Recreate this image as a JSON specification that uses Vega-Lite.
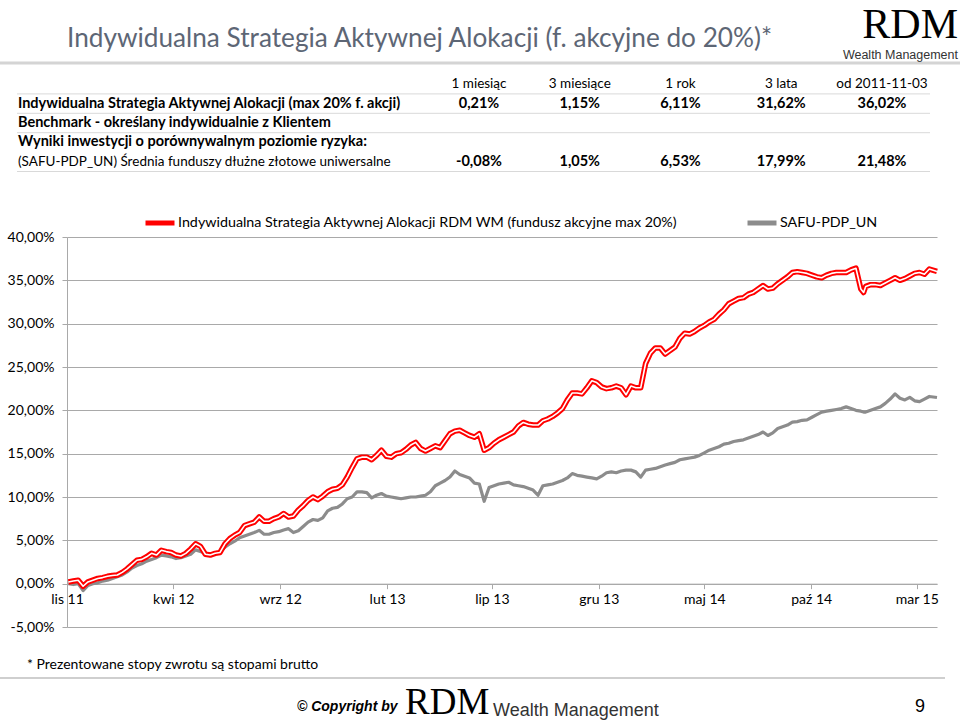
{
 "$schema": "https://vega.github.io/schema/vega-lite/v6.json",
 "width": 870,
 "height": 390,
 "autosize": {"type": "none"},
 "padding": {"left": 67, "top": 237, "right": 23, "bottom": 95},
 "background": "#ffffff",
 "config": {
  "font": "Lato",
  "view": {"stroke": null},
  "locale": {
   "number": {"decimal": ",", "thousands": " ", "grouping": [3], "currency": ["", " zł"], "minus": "-"},
   "time": {
    "dateTime": "%A, %-d %B %Y %X", "date": "%d.%m.%Y", "time": "%H:%M:%S", "periods": ["AM", "PM"],
    "days": ["niedziela", "poniedziałek", "wtorek", "środa", "czwartek", "piątek", "sobota"],
    "shortDays": ["niedz.", "pon.", "wt.", "śr.", "czw.", "pt.", "sob."],
    "months": ["styczeń", "luty", "marzec", "kwiecień", "maj", "czerwiec", "lipiec", "sierpień", "wrzesień", "październik", "listopad", "grudzień"],
    "shortMonths": ["sty", "lut", "mar", "kwi", "maj", "cze", "lip", "sie", "wrz", "paź", "lis", "gru"]
   }
  }
 },
 "datasets": {
  "series": [
   {"d": "2011-11-03", "r": 0.2, "g": 0.0}, {"d": "2011-11-10", "r": 0.3, "g": -0.1}, {"d": "2011-11-17", "r": 0.4, "g": 0.0},
   {"d": "2011-11-24", "r": -0.3, "g": -0.8}, {"d": "2011-12-01", "r": 0.2, "g": -0.2}, {"d": "2011-12-08", "r": 0.4, "g": 0.0},
   {"d": "2011-12-15", "r": 0.6, "g": 0.1}, {"d": "2011-12-22", "r": 0.7, "g": 0.3}, {"d": "2011-12-29", "r": 0.85, "g": 0.4},
   {"d": "2012-01-05", "r": 0.95, "g": 0.6}, {"d": "2012-01-12", "r": 1.0, "g": 0.8}, {"d": "2012-01-19", "r": 1.3, "g": 1.0},
   {"d": "2012-01-26", "r": 1.7, "g": 1.35}, {"d": "2012-02-02", "r": 2.2, "g": 1.8}, {"d": "2012-02-09", "r": 2.7, "g": 2.1},
   {"d": "2012-02-16", "r": 2.8, "g": 2.3}, {"d": "2012-02-23", "r": 3.1, "g": 2.6}, {"d": "2012-03-01", "r": 3.5, "g": 2.8},
   {"d": "2012-03-08", "r": 3.3, "g": 3.0}, {"d": "2012-03-15", "r": 3.85, "g": 3.3}, {"d": "2012-03-22", "r": 3.7, "g": 3.2},
   {"d": "2012-03-29", "r": 3.6, "g": 3.1}, {"d": "2012-04-05", "r": 3.3, "g": 2.9}, {"d": "2012-04-12", "r": 3.2, "g": 3.0},
   {"d": "2012-04-19", "r": 3.5, "g": 3.2}, {"d": "2012-04-26", "r": 4.0, "g": 3.4}, {"d": "2012-05-03", "r": 4.6, "g": 3.9},
   {"d": "2012-05-10", "r": 4.3, "g": 3.7}, {"d": "2012-05-17", "r": 3.4, "g": 3.5}, {"d": "2012-05-24", "r": 3.3, "g": 3.4},
   {"d": "2012-05-31", "r": 3.5, "g": 3.4}, {"d": "2012-06-07", "r": 3.6, "g": 3.7}, {"d": "2012-06-14", "r": 4.6, "g": 4.2},
   {"d": "2012-06-21", "r": 5.2, "g": 4.6}, {"d": "2012-06-28", "r": 5.6, "g": 4.9}, {"d": "2012-07-05", "r": 5.9, "g": 5.3},
   {"d": "2012-07-12", "r": 6.7, "g": 5.5}, {"d": "2012-07-19", "r": 6.9, "g": 5.7}, {"d": "2012-07-26", "r": 7.1, "g": 5.9},
   {"d": "2012-08-02", "r": 7.7, "g": 6.15}, {"d": "2012-08-09", "r": 7.2, "g": 5.7}, {"d": "2012-08-16", "r": 7.2, "g": 5.7},
   {"d": "2012-08-23", "r": 7.5, "g": 5.9}, {"d": "2012-08-30", "r": 7.7, "g": 6.0}, {"d": "2012-09-06", "r": 8.1, "g": 6.2},
   {"d": "2012-09-13", "r": 7.7, "g": 6.35}, {"d": "2012-09-20", "r": 7.8, "g": 5.9}, {"d": "2012-09-27", "r": 8.5, "g": 6.1},
   {"d": "2012-10-04", "r": 9.0, "g": 6.6}, {"d": "2012-10-11", "r": 9.6, "g": 7.1}, {"d": "2012-10-18", "r": 10.0, "g": 7.4},
   {"d": "2012-10-25", "r": 9.7, "g": 7.3}, {"d": "2012-11-01", "r": 10.1, "g": 7.6}, {"d": "2012-11-08", "r": 10.6, "g": 8.4},
   {"d": "2012-11-15", "r": 10.9, "g": 8.7}, {"d": "2012-11-22", "r": 11.0, "g": 8.8}, {"d": "2012-11-29", "r": 11.4, "g": 9.2},
   {"d": "2012-12-06", "r": 12.3, "g": 9.8}, {"d": "2012-12-13", "r": 13.4, "g": 10.0}, {"d": "2012-12-20", "r": 14.4, "g": 10.6},
   {"d": "2012-12-27", "r": 14.6, "g": 10.6}, {"d": "2013-01-03", "r": 14.6, "g": 10.5}, {"d": "2013-01-10", "r": 14.3, "g": 9.9},
   {"d": "2013-01-17", "r": 14.8, "g": 10.2}, {"d": "2013-01-24", "r": 15.4, "g": 10.4}, {"d": "2013-01-31", "r": 14.7, "g": 10.1},
   {"d": "2013-02-07", "r": 14.6, "g": 10.0}, {"d": "2013-02-14", "r": 15.0, "g": 9.9}, {"d": "2013-02-21", "r": 15.1, "g": 9.8},
   {"d": "2013-02-28", "r": 15.5, "g": 9.9}, {"d": "2013-03-07", "r": 16.0, "g": 10.0}, {"d": "2013-03-14", "r": 16.3, "g": 10.0},
   {"d": "2013-03-21", "r": 15.6, "g": 10.1}, {"d": "2013-03-28", "r": 15.3, "g": 10.2}, {"d": "2013-04-04", "r": 15.6, "g": 10.6},
   {"d": "2013-04-11", "r": 15.9, "g": 11.3}, {"d": "2013-04-18", "r": 15.7, "g": 11.6}, {"d": "2013-04-25", "r": 16.5, "g": 11.9},
   {"d": "2013-05-02", "r": 17.3, "g": 12.3}, {"d": "2013-05-09", "r": 17.6, "g": 13.0}, {"d": "2013-05-16", "r": 17.7, "g": 12.6},
   {"d": "2013-05-23", "r": 17.4, "g": 12.4}, {"d": "2013-05-30", "r": 17.1, "g": 12.2}, {"d": "2013-06-06", "r": 16.9, "g": 11.6},
   {"d": "2013-06-13", "r": 17.3, "g": 11.5}, {"d": "2013-06-20", "r": 15.4, "g": 9.5}, {"d": "2013-06-27", "r": 15.7, "g": 11.1},
   {"d": "2013-07-04", "r": 16.2, "g": 11.3}, {"d": "2013-07-11", "r": 16.6, "g": 11.5}, {"d": "2013-07-18", "r": 16.9, "g": 11.6},
   {"d": "2013-07-25", "r": 17.2, "g": 11.7}, {"d": "2013-08-01", "r": 17.5, "g": 11.4}, {"d": "2013-08-08", "r": 18.2, "g": 11.3},
   {"d": "2013-08-15", "r": 18.6, "g": 11.2}, {"d": "2013-08-22", "r": 18.4, "g": 11.0}, {"d": "2013-08-29", "r": 18.3, "g": 10.8},
   {"d": "2013-09-05", "r": 18.3, "g": 10.2}, {"d": "2013-09-12", "r": 18.8, "g": 11.3}, {"d": "2013-09-19", "r": 19.0, "g": 11.4},
   {"d": "2013-09-26", "r": 19.3, "g": 11.5}, {"d": "2013-10-03", "r": 19.7, "g": 11.7}, {"d": "2013-10-10", "r": 20.2, "g": 11.9},
   {"d": "2013-10-17", "r": 21.2, "g": 12.2}, {"d": "2013-10-24", "r": 22.0, "g": 12.7}, {"d": "2013-10-31", "r": 22.0, "g": 12.5},
   {"d": "2013-11-07", "r": 21.9, "g": 12.4}, {"d": "2013-11-14", "r": 22.6, "g": 12.3}, {"d": "2013-11-21", "r": 23.4, "g": 12.2},
   {"d": "2013-11-28", "r": 23.2, "g": 12.1}, {"d": "2013-12-05", "r": 22.7, "g": 12.4}, {"d": "2013-12-12", "r": 22.5, "g": 12.8},
   {"d": "2013-12-19", "r": 22.6, "g": 12.9}, {"d": "2013-12-26", "r": 22.8, "g": 12.8}, {"d": "2014-01-02", "r": 22.6, "g": 13.0},
   {"d": "2014-01-09", "r": 21.8, "g": 13.1}, {"d": "2014-01-16", "r": 22.8, "g": 13.1}, {"d": "2014-01-23", "r": 22.6, "g": 12.9},
   {"d": "2014-01-30", "r": 22.6, "g": 12.3}, {"d": "2014-02-06", "r": 25.4, "g": 13.1}, {"d": "2014-02-13", "r": 26.6, "g": 13.2},
   {"d": "2014-02-20", "r": 27.2, "g": 13.3}, {"d": "2014-02-27", "r": 27.2, "g": 13.5}, {"d": "2014-03-06", "r": 26.5, "g": 13.7},
   {"d": "2014-03-13", "r": 26.9, "g": 13.85}, {"d": "2014-03-20", "r": 27.3, "g": 14.0}, {"d": "2014-03-27", "r": 28.3, "g": 14.3},
   {"d": "2014-04-03", "r": 28.9, "g": 14.4}, {"d": "2014-04-10", "r": 28.8, "g": 14.5}, {"d": "2014-04-17", "r": 29.1, "g": 14.6},
   {"d": "2014-04-24", "r": 29.5, "g": 14.8}, {"d": "2014-05-01", "r": 29.8, "g": 15.1}, {"d": "2014-05-08", "r": 30.2, "g": 15.4},
   {"d": "2014-05-15", "r": 30.5, "g": 15.6}, {"d": "2014-05-22", "r": 31.1, "g": 15.8}, {"d": "2014-05-29", "r": 31.6, "g": 16.1},
   {"d": "2014-06-05", "r": 32.3, "g": 16.2}, {"d": "2014-06-12", "r": 32.6, "g": 16.4}, {"d": "2014-06-19", "r": 32.9, "g": 16.5},
   {"d": "2014-06-26", "r": 33.0, "g": 16.6}, {"d": "2014-07-03", "r": 33.4, "g": 16.8}, {"d": "2014-07-10", "r": 33.6, "g": 17.0},
   {"d": "2014-07-17", "r": 34.0, "g": 17.2}, {"d": "2014-07-24", "r": 34.4, "g": 17.5}, {"d": "2014-07-31", "r": 34.0, "g": 17.1},
   {"d": "2014-08-07", "r": 34.1, "g": 17.4}, {"d": "2014-08-14", "r": 34.6, "g": 17.9}, {"d": "2014-08-21", "r": 35.0, "g": 18.1},
   {"d": "2014-08-28", "r": 35.4, "g": 18.3}, {"d": "2014-09-04", "r": 35.9, "g": 18.65}, {"d": "2014-09-11", "r": 36.0, "g": 18.7},
   {"d": "2014-09-18", "r": 35.9, "g": 18.85}, {"d": "2014-09-25", "r": 35.8, "g": 18.9}, {"d": "2014-10-02", "r": 35.6, "g": 19.2},
   {"d": "2014-10-09", "r": 35.4, "g": 19.5}, {"d": "2014-10-16", "r": 35.3, "g": 19.8}, {"d": "2014-10-23", "r": 35.6, "g": 19.9},
   {"d": "2014-10-30", "r": 35.8, "g": 20.0}, {"d": "2014-11-06", "r": 35.9, "g": 20.1}, {"d": "2014-11-13", "r": 35.9, "g": 20.2},
   {"d": "2014-11-20", "r": 35.9, "g": 20.4}, {"d": "2014-11-27", "r": 36.2, "g": 20.2}, {"d": "2014-12-04", "r": 36.4, "g": 20.0},
   {"d": "2014-12-11", "r": 34.0, "g": 19.9}, {"d": "2014-12-15", "r": 33.6, "g": 19.8}, {"d": "2014-12-18", "r": 34.3, "g": 19.8},
   {"d": "2014-12-25", "r": 34.5, "g": 20.0}, {"d": "2015-01-01", "r": 34.5, "g": 20.2}, {"d": "2015-01-08", "r": 34.4, "g": 20.4},
   {"d": "2015-01-15", "r": 34.7, "g": 20.8}, {"d": "2015-01-22", "r": 35.0, "g": 21.3}, {"d": "2015-01-29", "r": 35.3, "g": 21.9},
   {"d": "2015-02-05", "r": 35.0, "g": 21.4}, {"d": "2015-02-12", "r": 35.2, "g": 21.2}, {"d": "2015-02-19", "r": 35.5, "g": 21.5},
   {"d": "2015-02-26", "r": 35.8, "g": 21.1}, {"d": "2015-03-05", "r": 35.9, "g": 21.0}, {"d": "2015-03-12", "r": 35.7, "g": 21.3},
   {"d": "2015-03-19", "r": 36.3, "g": 21.6}, {"d": "2015-03-30", "r": 36.02, "g": 21.48}
  ],
  "returns": [
   {"line": "fund", "period": "1 miesiąc", "ret": 0.0021},
   {"line": "fund", "period": "3 miesiące", "ret": 0.0115},
   {"line": "fund", "period": "1 rok", "ret": 0.0611},
   {"line": "fund", "period": "3 lata", "ret": 0.3162},
   {"line": "fund", "period": "od 2011-11-03", "ret": 0.3602},
   {"line": "safu", "period": "1 miesiąc", "ret": -0.0008},
   {"line": "safu", "period": "3 miesiące", "ret": 0.0105},
   {"line": "safu", "period": "1 rok", "ret": 0.0653},
   {"line": "safu", "period": "3 lata", "ret": 0.1799},
   {"line": "safu", "period": "od 2011-11-03", "ret": 0.2148}
  ],
  "rows": [
   {"line": "head", "label": ""},
   {"line": "fund", "label": "Indywidualna Strategia Aktywnej Alokacji (max 20% f. akcji)"},
   {"line": "bench", "label": "Benchmark - określany indywidualnie z Klientem"},
   {"line": "peer", "label": "Wyniki inwestycji o porównywalnym poziomie ryzyka:"},
   {"line": "safu", "label": "(SAFU-PDP_UN) Średnia funduszy dłużne złotowe uniwersalne"}
  ],
  "notes": [
   {"part": "title", "text": "Indywidualna Strategia Aktywnej Alokacji (f. akcyjne do 20%)*"},
   {"part": "logo", "text": "RDM"},
   {"part": "logoSub", "text": "Wealth Management"},
   {"part": "footnote", "text": "* Prezentowane stopy zwrotu są stopami brutto"},
   {"part": "copyright", "text": "© Copyright by"},
   {"part": "footLogo", "text": "RDM"},
   {"part": "footLogoSub", "text": "Wealth Management"},
   {"part": "page", "text": "9"}
  ]
 },
 "layer": [
  {
   "data": {"name": "series"},
   "encoding": {
    "x": {
     "field": "d", "type": "temporal", "title": null,
     "scale": {"type": "utc", "nice": false, "domain": [{"year": 2011, "month": 11, "date": 1, "utc": true}, {"year": 2015, "month": 3, "date": 30, "utc": true}]},
     "axis": {
      "orient": "bottom", "offset": -43.33, "format": "%b %y", "grid": false,
      "values": [
       {"year": 2011, "month": 11, "date": 1, "utc": true}, {"year": 2012, "month": 4, "date": 1, "utc": true},
       {"year": 2012, "month": 9, "date": 1, "utc": true}, {"year": 2013, "month": 2, "date": 1, "utc": true},
       {"year": 2013, "month": 7, "date": 1, "utc": true}, {"year": 2013, "month": 12, "date": 1, "utc": true},
       {"year": 2014, "month": 5, "date": 1, "utc": true}, {"year": 2014, "month": 10, "date": 1, "utc": true},
       {"year": 2015, "month": 3, "date": 1, "utc": true}
      ],
      "labelFont": "Lato", "labelFontSize": 14, "labelColor": "#000000", "labelPadding": 4,
      "labelFlush": false, "labelOverlap": false, "labelBound": false,
      "domainColor": "#a9a9a9", "domainWidth": 1, "tickColor": "#a9a9a9", "tickSize": 5, "tickWidth": 1
     }
    }
   },
   "layer": [
    {
     "mark": {"type": "line", "strokeWidth": 3.2, "strokeJoin": "round"},
     "encoding": {
      "y": {
       "field": "g", "type": "quantitative", "title": null,
       "scale": {"domain": [-5, 40], "nice": false, "zero": false},
       "axis": {
        "orient": "left", "values": [-5, 0, 5, 10, 15, 20, 25, 30, 35, 40], "format": ".2f", "labelExpr": "datum.label + '%'",
        "grid": true, "gridColor": "#a9a9a9", "gridWidth": 1, "domainColor": "#a9a9a9", "tickColor": "#a9a9a9", "tickSize": 5,
        "labelFont": "Lato", "labelFontSize": 14, "labelColor": "#000000", "labelPadding": 8
       }
      },
      "color": {
       "datum": "SAFU-PDP_UN", "type": "nominal",
       "scale": {"domain": ["Indywidualna Strategia Aktywnej Alokacji RDM WM (fundusz akcyjne max 20%)", "SAFU-PDP_UN"], "range": ["#ff0000", "#8c8c8c"]},
       "legend": {
        "orient": "none", "legendX": 76, "legendY": -31, "direction": "horizontal", "title": null,
        "labelFont": "Lato", "labelFontSize": 14.3, "labelColor": "#000000", "labelLimit": 1000, "labelOffset": 1,
        "symbolType": "stroke", "symbolStrokeWidth": 5, "symbolSize": 841, "columnPadding": 59
       }
      }
     }
    },
    {
     "mark": {"type": "line", "strokeWidth": 5.5, "strokeJoin": "round"},
     "encoding": {
      "y": {"field": "r", "type": "quantitative", "title": null, "scale": {"domain": [-5, 40], "nice": false, "zero": false}},
      "color": {"datum": "Indywidualna Strategia Aktywnej Alokacji RDM WM (fundusz akcyjne max 20%)", "type": "nominal"}
     }
    },
    {
     "mark": {"type": "line", "strokeWidth": 1.6, "color": "#ffffff", "strokeJoin": "round"},
     "encoding": {
      "y": {"field": "r", "type": "quantitative", "title": null, "scale": {"domain": [-5, 40], "nice": false, "zero": false}}
     }
    }
   ]
  },
  {
   "layer": [
    {
     "data": {"name": "rows"},
     "transform": [{"filter": "datum.line != 'peer'"}],
     "mark": {"type": "rule", "color": "#d9d9d9", "strokeWidth": 1},
     "encoding": {
      "x": {"datum": "left", "type": "nominal", "scale": {"type": "point", "domain": ["left", "right"], "range": [-50, 863], "padding": 0}, "axis": null},
      "x2": {"datum": "right"},
      "y": {"field": "line", "type": "nominal", "bandPosition": 1, "scale": {"type": "band", "domain": ["head", "fund", "bench", "peer", "safu"], "range": [-162.5, -65.5], "paddingInner": 0, "paddingOuter": 0}, "axis": null}
     }
    },
    {
     "data": {"name": "returns"},
     "transform": [{"filter": "datum.line == 'fund'"}],
     "mark": {"type": "text", "align": "center", "baseline": "middle", "font": "Lato", "fontSize": 13.5, "color": "#000000"},
     "encoding": {
      "x": {"field": "period", "type": "nominal", "sort": null, "scale": {"type": "point", "domain": ["1 miesiąc", "3 miesiące", "1 rok", "3 lata", "od 2011-11-03"], "range": [412, 815], "padding": 0}, "axis": null},
      "y": {"datum": "head", "type": "nominal", "scale": {"type": "band", "domain": ["head", "fund", "bench", "peer", "safu"], "range": [-162.5, -65.5], "paddingInner": 0, "paddingOuter": 0}, "axis": null},
      "text": {"field": "period", "type": "nominal"}
     }
    },
    {
     "data": {"name": "returns"},
     "mark": {"type": "text", "align": "center", "baseline": "middle", "font": "Lato", "fontSize": 14.5, "fontWeight": "bold", "color": "#000000"},
     "encoding": {
      "x": {"field": "period", "type": "nominal", "sort": null, "scale": {"type": "point", "domain": ["1 miesiąc", "3 miesiące", "1 rok", "3 lata", "od 2011-11-03"], "range": [412, 815], "padding": 0}, "axis": null},
      "y": {"field": "line", "type": "nominal", "scale": {"type": "band", "domain": ["head", "fund", "bench", "peer", "safu"], "range": [-162.5, -65.5], "paddingInner": 0, "paddingOuter": 0}, "axis": null},
      "text": {"field": "ret", "type": "quantitative", "format": ".2%"}
     }
    },
    {
     "data": {"name": "rows"},
     "transform": [{"filter": "datum.line == 'fund' || datum.line == 'bench' || datum.line == 'peer'"}],
     "mark": {"type": "text", "align": "left", "baseline": "middle", "font": "Lato", "fontSize": 14.5, "fontWeight": "bold", "color": "#000000"},
     "encoding": {
      "x": {"field": "line", "type": "nominal", "scale": {"type": "point", "range": [-49, -49]}, "axis": null},
      "y": {"field": "line", "type": "nominal", "scale": {"type": "band", "domain": ["head", "fund", "bench", "peer", "safu"], "range": [-162.5, -65.5], "paddingInner": 0, "paddingOuter": 0}, "axis": null},
      "text": {"field": "label", "type": "nominal"}
     }
    },
    {
     "data": {"name": "rows"},
     "transform": [{"filter": "datum.line == 'safu'"}],
     "mark": {"type": "text", "align": "left", "baseline": "middle", "font": "Lato", "fontSize": 13.5, "color": "#000000"},
     "encoding": {
      "x": {"field": "line", "type": "nominal", "scale": {"type": "point", "range": [-49, -49]}, "axis": null},
      "y": {"field": "line", "type": "nominal", "scale": {"type": "band", "domain": ["head", "fund", "bench", "peer", "safu"], "range": [-162.5, -65.5], "paddingInner": 0, "paddingOuter": 0}, "axis": null},
      "text": {"field": "label", "type": "nominal"}
     }
    }
   ],
   "resolve": {"scale": {"x": "independent"}}
  },
  {
   "data": {"name": "notes"},
   "transform": [{"filter": "datum.part == 'title'"}],
   "mark": {"type": "text", "align": "left", "baseline": "alphabetic", "font": "Lato", "fontSize": 26.2, "color": "#5d6675"},
   "encoding": {
    "x": {"field": "part", "type": "nominal", "scale": {"type": "point", "range": [0, 0]}, "axis": null},
    "y": {"field": "part", "type": "nominal", "scale": {"type": "point", "range": [-190, -190]}, "axis": null},
    "text": {"field": "text", "type": "nominal"}
   }
  },
  {
   "data": {"name": "notes"},
   "transform": [{"filter": "datum.part == 'title'"}],
   "mark": {"type": "rule", "color": "#d4d4d4", "strokeWidth": 3},
   "encoding": {
    "x": {"datum": "left", "type": "nominal", "scale": {"type": "point", "domain": ["left", "right"], "range": [-67, 893], "padding": 0}, "axis": null},
    "x2": {"datum": "right"},
    "y": {"field": "part", "type": "nominal", "scale": {"type": "point", "range": [-174, -174]}, "axis": null}
   }
  },
  {
   "data": {"name": "notes"},
   "transform": [{"filter": "datum.part == 'logo'"}],
   "mark": {"type": "text", "align": "right", "baseline": "alphabetic", "font": "Liberation Serif", "fontSize": 42, "color": "#000000"},
   "encoding": {
    "x": {"field": "part", "type": "nominal", "scale": {"type": "point", "range": [891, 891]}, "axis": null},
    "y": {"field": "part", "type": "nominal", "scale": {"type": "point", "range": [-199, -199]}, "axis": null},
    "text": {"field": "text", "type": "nominal"}
   }
  },
  {
   "data": {"name": "notes"},
   "transform": [{"filter": "datum.part == 'logoSub'"}],
   "mark": {"type": "text", "align": "right", "baseline": "alphabetic", "font": "Liberation Sans", "fontSize": 12.5, "color": "#333333"},
   "encoding": {
    "x": {"field": "part", "type": "nominal", "scale": {"type": "point", "range": [891, 891]}, "axis": null},
    "y": {"field": "part", "type": "nominal", "scale": {"type": "point", "range": [-178, -178]}, "axis": null},
    "text": {"field": "text", "type": "nominal"}
   }
  },
  {
   "data": {"name": "notes"},
   "transform": [{"filter": "datum.part == 'footnote'"}],
   "mark": {"type": "text", "align": "left", "baseline": "middle", "font": "Lato", "fontSize": 14, "color": "#000000"},
   "encoding": {
    "x": {"field": "part", "type": "nominal", "scale": {"type": "point", "range": [-40, -40]}, "axis": null},
    "y": {"field": "part", "type": "nominal", "scale": {"type": "point", "range": [428, 428]}, "axis": null},
    "text": {"field": "text", "type": "nominal"}
   }
  },
  {
   "data": {"name": "notes"},
   "transform": [{"filter": "datum.part == 'footnote'"}],
   "mark": {"type": "rule", "color": "#cfcfcf", "strokeWidth": 2},
   "encoding": {
    "x": {"datum": "left", "type": "nominal", "scale": {"type": "point", "domain": ["left", "right"], "range": [-67, 878], "padding": 0}, "axis": null},
    "x2": {"datum": "right"},
    "y": {"field": "part", "type": "nominal", "scale": {"type": "point", "range": [441, 441]}, "axis": null}
   }
  },
  {
   "data": {"name": "notes"},
   "transform": [{"filter": "datum.part == 'copyright'"}],
   "mark": {"type": "text", "align": "left", "baseline": "middle", "font": "Liberation Sans", "fontSize": 14, "fontWeight": "bold", "fontStyle": "italic", "color": "#000000"},
   "encoding": {
    "x": {"field": "part", "type": "nominal", "scale": {"type": "point", "range": [230, 230]}, "axis": null},
    "y": {"field": "part", "type": "nominal", "scale": {"type": "point", "range": [470, 470]}, "axis": null},
    "text": {"field": "text", "type": "nominal"}
   }
  },
  {
   "data": {"name": "notes"},
   "transform": [{"filter": "datum.part == 'footLogo'"}],
   "mark": {"type": "text", "align": "left", "baseline": "alphabetic", "font": "Liberation Serif", "fontSize": 37, "color": "#000000"},
   "encoding": {
    "x": {"field": "part", "type": "nominal", "scale": {"type": "point", "range": [338, 338]}, "axis": null},
    "y": {"field": "part", "type": "nominal", "scale": {"type": "point", "range": [477, 477]}, "axis": null},
    "text": {"field": "text", "type": "nominal"}
   }
  },
  {
   "data": {"name": "notes"},
   "transform": [{"filter": "datum.part == 'footLogoSub'"}],
   "mark": {"type": "text", "align": "left", "baseline": "alphabetic", "font": "Liberation Sans", "fontSize": 18, "color": "#333333"},
   "encoding": {
    "x": {"field": "part", "type": "nominal", "scale": {"type": "point", "range": [426, 426]}, "axis": null},
    "y": {"field": "part", "type": "nominal", "scale": {"type": "point", "range": [479, 479]}, "axis": null},
    "text": {"field": "text", "type": "nominal"}
   }
  },
  {
   "data": {"name": "notes"},
   "transform": [{"filter": "datum.part == 'page'"}],
   "mark": {"type": "text", "align": "center", "baseline": "middle", "font": "Liberation Sans", "fontSize": 18, "color": "#000000"},
   "encoding": {
    "x": {"field": "part", "type": "nominal", "scale": {"type": "point", "range": [853, 853]}, "axis": null},
    "y": {"field": "part", "type": "nominal", "scale": {"type": "point", "range": [470, 470]}, "axis": null},
    "text": {"field": "text", "type": "nominal"}
   }
  }
 ],
 "resolve": {"scale": {"x": "independent", "y": "independent"}}
}
